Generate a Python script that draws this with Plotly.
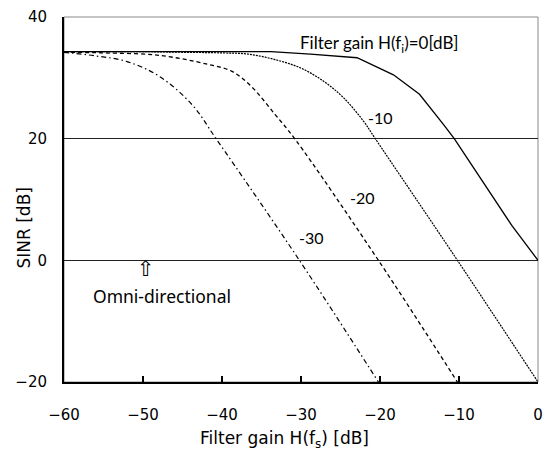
import plotly.graph_objects as go

# H(fi) = 0 dB (solid)
x0 = [-60, -50, -40, -33.8, -28.8, -22.9, -18.3, -15.0, -12.0, -10.6, -3.3, 0]
y0 = [34.3, 34.3, 34.3, 34.3, 33.9, 33.3, 30.5, 27.3, 22.4, 20.0, 5.7, 0]
# H(fi) = -10 dB (dotted)
x10 = [-60, -50, -45, -40, -36.7, -33.3, -30, -27.1, -24.6, -22.1, -20.6, -10.2, 0]
y10 = [34.3, 34.3, 34.2, 34.1, 33.9, 33.0, 31.6, 29.4, 26.7, 22.9, 20.0, 0, -20]
# H(fi) = -20 dB (dashed)
x20 = [-60, -55, -48, -41.7, -38.8, -36.3, -33.3, -30.8, -20.2, -10.2]
y20 = [34.2, 34.1, 33.7, 32.2, 31.1, 28.6, 24.0, 20.0, 0, -20]
# H(fi) = -30 dB (dash-dot)
x30 = [-60, -56, -52.1, -48, -43.8, -40.7, -30.2, -20.2]
y30 = [34.2, 33.6, 32.7, 30.3, 25.6, 19.9, 0, -20]

xticks = [-60, -50, -40, -30, -20, -10, 0]
xticklabels = ["−60", "−50", "−40", "−30", "−20", "−10", "0"]
yticks = [-20, 0, 20, 40]
yticklabels = ["−20", "0", "20", "40"]

fig = go.Figure()
fig.add_trace(go.Scatter(x=x0, y=y0, mode="lines",
                         line=dict(color="black", width=1.3)))
fig.add_trace(go.Scatter(x=x10, y=y10, mode="lines", line_shape="spline",
                         line=dict(color="black", width=1.2, dash="2px,1px", smoothing=1.0)))
fig.add_trace(go.Scatter(x=x20, y=y20, mode="lines", line_shape="spline",
                         line=dict(color="black", width=1.3, dash="4px,3px", smoothing=1.0)))
fig.add_trace(go.Scatter(x=x30, y=y30, mode="lines", line_shape="spline",
                         line=dict(color="black", width=1.2, dash="5px,3px,1.5px,3px", smoothing=1.0)))

lab_font = dict(family="Lato, Open Sans, sans-serif", size=16, color="black")
ann = [
    dict(x=-30.2, y=35.5, text="Filter gain H(f<sub>i</sub>)=0[dB]", xanchor="left",
         font=dict(family="Lato, Open Sans, sans-serif", size=17, color="black")),
    dict(x=-21.6, y=23.4, text="-10", xanchor="left"),
    dict(x=-23.9, y=10.3, text="-20", xanchor="left"),
    dict(x=-30.4, y=3.75, text="-30", xanchor="left"),
    dict(x=-56.4, y=-5.8, text="Omni-directional", xanchor="left",
         font=dict(family="Noto Sans, sans-serif", size=17.5, color="black")),
    dict(x=-49.6, y=-1.5, text="⇧", xanchor="center",
         font=dict(family="DejaVu Sans", size=21, color="black")),
]
for a in ann:
    a.setdefault("font", lab_font)
    fig.add_annotation(showarrow=False, yanchor="middle", borderpad=0, **a)

# axis titles
fig.add_annotation(xref="paper", yref="paper", x=0.466, y=-0.158, showarrow=False,
                   text="Filter gain H(f<sub>s</sub>) [dB]", xanchor="center", yanchor="middle",
                   font=dict(family="DejaVu Sans, sans-serif", size=17, color="black"))
fig.add_annotation(xref="paper", yref="paper", x=-0.0846, y=0.423, showarrow=False,
                   text="SINR [dB]", textangle=-90, xanchor="center", yanchor="middle",
                   font=dict(family="DejaVu Sans, sans-serif", size=17, color="black"))

fig.update_layout(
    width=551, height=451,
    margin=dict(l=64, r=8, t=15, b=69),
    paper_bgcolor="white", plot_bgcolor="white",
    showlegend=False,
    font=dict(family="DejaVu Sans, sans-serif", size=15, color="black"),
)
fig.update_xaxes(range=[-60, 0], tickvals=xticks, ticktext=xticklabels,
                 ticks="inside", ticklen=6, tickcolor="black", tickwidth=1.5,
                 ticklabelstandoff=18, ticklabeloverflow="allow",
                 showgrid=False, zeroline=False,
                 showline=True, linecolor="black", linewidth=2,
                 tickfont=dict(size=15))
fig.update_yaxes(range=[-20, 40], tickvals=yticks, ticktext=yticklabels,
                 ticks="", showgrid=True, gridcolor="#222", gridwidth=1,
                 ticklabelstandoff=12,
                 zeroline=False,
                 showline=True, linecolor="black", linewidth=2,
                 tickfont=dict(size=15))
# thin gray top/right frame
fig.add_shape(type="rect", xref="paper", yref="paper", x0=0, y0=0, x1=1, y1=1,
              line=dict(color="#888", width=1), layer="below")
fig.write_html("out.html", config={"displayModeBar": False},
               post_script="document.body.style.margin='0px';document.body.style.overflow='hidden';")
